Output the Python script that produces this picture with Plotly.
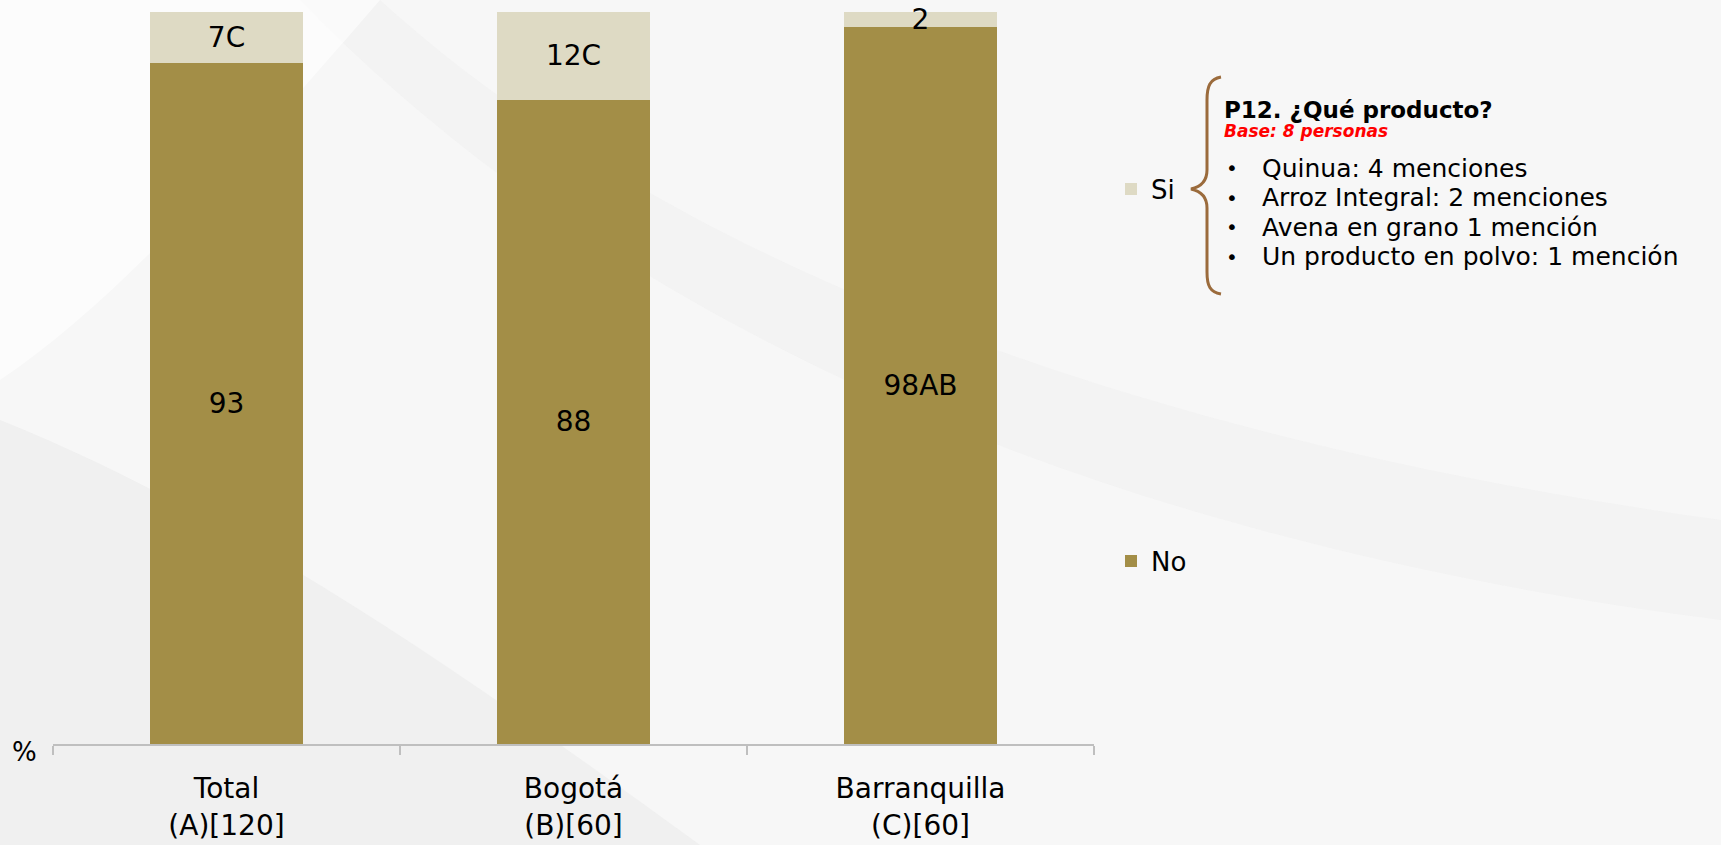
import plotly.graph_objects as go

categories = ["Total<br>(A)[120]", "Bogotá<br>(B)[60]", "Barranquilla<br>(C)[60]"]
no_values = [93, 88, 98]
si_values = [7, 12, 2]
no_labels = ["93", "88", "98AB"]
si_labels = ["7C", "12C", "2"]

note_title = "P12. ¿Qué producto?"
note_base = "Base: 8 personas"
note_items = ["Quinua: 4 menciones", "Arroz Integral: 2 menciones",
              "Avena en grano 1 mención", "Un producto en polvo: 1 mención"]

W, H = 1721, 845
L, R, T, B = 53, 1094, 12, 744
FONT = "DejaVu Sans"
C_NO = "#A38E47"
C_SI = "#DEDAC4"


def px(x):
    return (x - L) / (R - L)


def py(y):
    return (B - y) / (B - T)


fig = go.Figure()
fig.add_trace(go.Bar(
    x=categories, y=no_values, name="No", marker=dict(color=C_NO, line=dict(width=0)),
    text=no_labels, textposition="inside", insidetextanchor="middle", textangle=0,
    constraintext="none", textfont=dict(family=FONT, size=28, color="#000"),
    legend="legend2", cliponaxis=False))
fig.add_trace(go.Bar(
    x=categories, y=si_values, name="Si", marker=dict(color=C_SI, line=dict(width=0)),
    text=si_labels, textposition="inside", insidetextanchor="middle", textangle=0,
    constraintext="none", textfont=dict(family=FONT, size=28, color="#000"),
    legend="legend", cliponaxis=False))

# subtle background swooshes
bg_shapes = [
    dict(type="path", xref="paper", yref="paper", layer="below",
         path=f"M {px(0)},{py(420)} C {px(250)},{py(520)} {px(500)},{py(700)} {px(700)},{py(845)} "
              f"L {px(0)},{py(845)} Z",
         fillcolor="rgba(225,225,225,0.35)", line=dict(width=0)),
    dict(type="path", xref="paper", yref="paper", layer="below",
         path=f"M {px(380)},{py(0)} C {px(600)},{py(200)} {px(1000)},{py(420)} {px(1721)},{py(520)} "
              f"L {px(1721)},{py(620)} C {px(1100)},{py(540)} {px(620)},{py(330)} {px(300)},{py(0)} Z",
         fillcolor="rgba(235,235,235,0.35)", line=dict(width=0)),
    dict(type="path", xref="paper", yref="paper", layer="below",
         path=f"M {px(0)},{py(0)} L {px(380)},{py(0)} C {px(250)},{py(150)} {px(120)},{py(300)} {px(0)},{py(380)} Z",
         fillcolor="rgba(255,255,255,0.6)", line=dict(width=0)),
]

brace = (f"M {px(1221)},{py(77)} C {px(1210)},{py(79)} {px(1207)},{py(86)} {px(1207)},{py(100)} "
         f"L {px(1207)},{py(170)} C {px(1207)},{py(182)} {px(1200)},{py(187)} {px(1191)},{py(189)} "
         f"C {px(1200)},{py(191)} {px(1207)},{py(196)} {px(1207)},{py(208)} "
         f"L {px(1207)},{py(272)} C {px(1207)},{py(286)} {px(1210)},{py(292)} {px(1221)},{py(294)}")
shapes = bg_shapes + [dict(type="path", xref="paper", yref="paper", path=brace,
                           line=dict(color="#9B6B3C", width=3))]

annotations = [
    dict(x=px(24), y=py(752), xref="paper", yref="paper", text="%", showarrow=False,
         xanchor="center", yanchor="middle", font=dict(family=FONT, size=26, color="#000")),
    dict(x=px(1222), y=py(110), xref="paper", yref="paper", text=f"<b>{note_title}</b>",
         showarrow=False, xanchor="left", yanchor="middle",
         font=dict(family=FONT, size=23, color="#000")),
    dict(x=px(1222), y=py(131), xref="paper", yref="paper", text=f"<b><i>{note_base}</i></b>",
         showarrow=False, xanchor="left", yanchor="middle",
         font=dict(family=FONT, size=17, color="#FF0000")),
]
for i, item in enumerate(note_items):
    yy = 168 + i * 29.5
    annotations.append(dict(x=px(1224), y=py(yy), xref="paper", yref="paper", text="•",
                            showarrow=False, xanchor="left", yanchor="middle",
                            font=dict(family=FONT, size=20, color="#000")))
    annotations.append(dict(x=px(1260), y=py(yy), xref="paper", yref="paper", text=item,
                            showarrow=False, xanchor="left", yanchor="middle",
                            font=dict(family=FONT, size=25, color="#000")))

fig.update_layout(
    width=W, height=H, barmode="stack", bargap=0.56,
    margin=dict(l=L, r=W - R, t=T, b=H - B, pad=0, autoexpand=False),
    paper_bgcolor="#F7F7F7", plot_bgcolor="rgba(0,0,0,0)",
    font=dict(family=FONT, color="#000"),
    xaxis=dict(showline=True, linecolor="#BFBFBF", linewidth=1.5, ticks="outside",
               tickson="boundaries", ticklen=9, tickcolor="#BFBFBF", tickwidth=1.5,
               tickfont=dict(family=FONT, size=28, color="#000"), showgrid=False,
               ticklabelstandoff=19, automargin=False),
    yaxis=dict(range=[0, 100], visible=False, showgrid=False, automargin=False),
    legend=dict(x=px(1111), y=py(189), xanchor="left", yanchor="middle",
                font=dict(family=FONT, size=26, color="#000"), bgcolor="rgba(0,0,0,0)",
                itemwidth=30),
    legend2=dict(x=px(1111), y=py(561), xanchor="left", yanchor="middle",
                 font=dict(family=FONT, size=26, color="#000"), bgcolor="rgba(0,0,0,0)",
                 itemwidth=30),
    shapes=shapes, annotations=annotations, showlegend=True,
)

fig.write_html("out.html")
